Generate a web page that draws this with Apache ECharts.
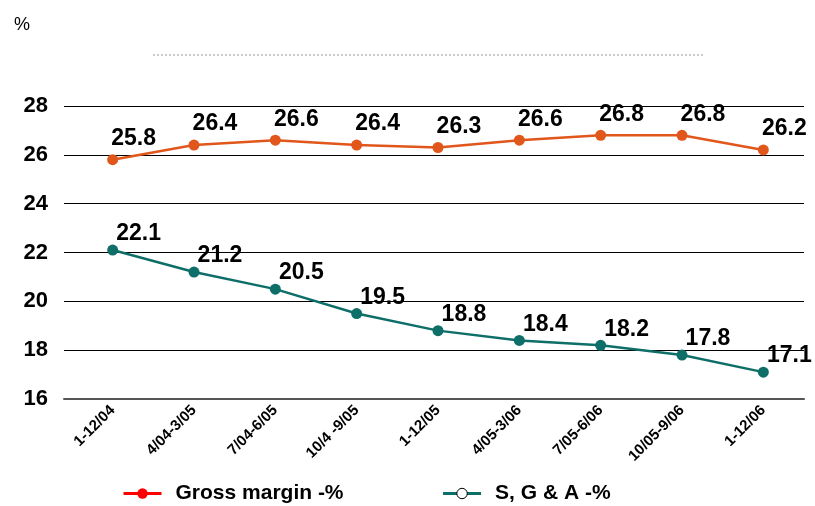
<!DOCTYPE html>
<html>
<head>
<meta charset="utf-8">
<script src="https://cdn.jsdelivr.net/npm/echarts@6/dist/echarts.min.js"></script>
<style>
  html, body { margin: 0; padding: 0; background: #fff; }
  #chart { width: 815px; height: 506px; }
</style>
</head>
<body>
<div id="chart"></div>
<script>
const varFont = 'Liberation Sans';

const categories = ['1-12/04', '4/04-3/05', '7/04-6/05', '10/4 -9/05', '1-12/05', '4/05-3/06', '7/05-6/06', '10/05-9/06', '1-12/06'];
const grossMargin = [25.8, 26.4, 26.6, 26.4, 26.3, 26.6, 26.8, 26.8, 26.2];
const sgaPercent = [22.1, 21.2, 20.5, 19.5, 18.8, 18.4, 18.2, 17.8, 17.1];
const yMin = 16;
const yMax = 28;
const yStep = 2;

const orange = '#E0561B';
const teal = '#0E6E68';

var myChart = echarts.init(document.getElementById('chart'));

var option = {
    animation: false,
    textStyle: {
        fontFamily: varFont,
    },
    title: {
        text: '%',
        left: 9,
        top: 11,
        textStyle: {
            fontSize: 18,
            fontWeight: 'normal',
            color: '#000',
            fontFamily: varFont,
        },
    },
    graphic: [
        {
            type: 'line',
            shape: { x1: 153, y1: 55, x2: 705, y2: 55 },
            style: { stroke: '#aaaaaa', lineWidth: 1.2, lineDash: [2, 2] },
        },
    ],
    legend: {
        top: 478,
        left: 117,
        itemWidth: 38,
        itemHeight: 13,
        itemGap: 98,
        textStyle: {
            fontSize: 21,
            fontWeight: 'bold',
            color: '#000',
            padding: [0, 0, 0, 9],
        },
        data: [
            {
                name: 'Gross margin -%',
                itemStyle: { color: '#FF0000' },
                lineStyle: { color: '#FF0000', width: 3 },
            },
            {
                name: 'S, G & A -%',
                itemStyle: { color: '#ffffff', borderColor: '#000', borderWidth: 1 },
                lineStyle: { color: teal, width: 3 },
            },
        ],
    },
    grid: [
        { left: 64, right: 11, top: 106, bottom: 107 },
        { left: 72, right: 11, top: 106, bottom: 107 },
    ],
    xAxis: [
        {
            gridIndex: 0,
            type: 'category',
            data: categories,
            axisLine: { show: true, lineStyle: { color: '#555', width: 2 } },
            axisTick: { show: false },
            axisLabel: { show: false },
        },
        {
            gridIndex: 1,
            type: 'category',
            data: categories,
            axisLine: { show: false },
            axisTick: { show: false },
            axisLabel: {
                rotate: 45,
                margin: 9,
                fontSize: 15,
                fontWeight: 'bold',
                color: '#000',
                interval: 0,
            },
        },
    ],
    yAxis: [
        {
            gridIndex: 0,
            type: 'value',
            min: yMin,
            max: yMax,
            interval: yStep,
            axisLine: { show: false },
            axisTick: { show: false },
            axisLabel: {
                margin: 16,
                fontSize: 22,
                fontWeight: 'bold',
                color: '#000',
            },
            splitLine: { lineStyle: { color: '#000', width: 1 } },
        },
        {
            gridIndex: 1,
            type: 'value',
            min: yMin,
            max: yMax,
            interval: yStep,
            show: false,
            splitLine: { show: false },
        },
    ],
    series: [
        {
            name: 'Gross margin -%',
            type: 'line',
            xAxisIndex: 1,
            yAxisIndex: 1,
            data: grossMargin,
            symbol: 'circle',
            symbolSize: 11,
            lineStyle: { color: orange, width: 2.5 },
            itemStyle: { color: orange },
            label: {
                show: true,
                position: 'top',
                offset: [21, 1],
                fontSize: 23,
                fontWeight: 'bold',
                color: '#000',
                formatter: (p) => p.value.toFixed(1),
            },
        },
        {
            name: 'S, G & A -%',
            type: 'line',
            xAxisIndex: 1,
            yAxisIndex: 1,
            data: sgaPercent,
            symbol: 'circle',
            symbolSize: 11,
            lineStyle: { color: teal, width: 2.5 },
            itemStyle: { color: teal },
            label: {
                show: true,
                position: 'top',
                offset: [26, 6],
                fontSize: 23,
                fontWeight: 'bold',
                color: '#000',
                formatter: (p) => p.value.toFixed(1),
            },
        },
    ],
};

myChart.setOption(option);
</script>
</body>
</html>
